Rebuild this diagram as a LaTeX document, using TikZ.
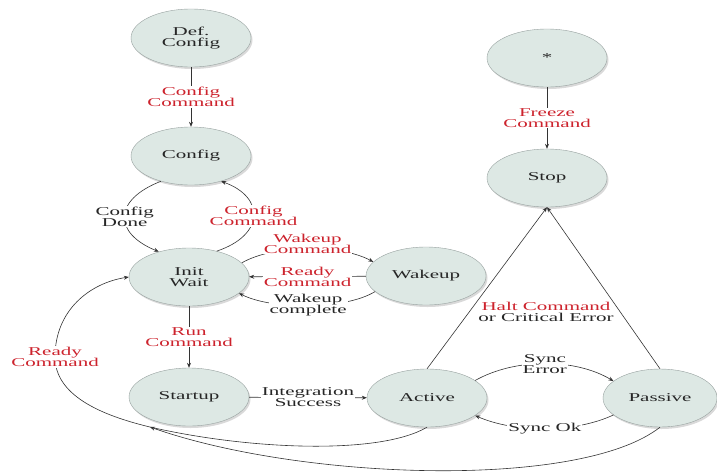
\documentclass[tikz,border=0pt]{standalone}
\usepackage{fontspec}
\setmainfont[FakeStretch=1.75]{Liberation Serif}
\usepackage{tikz}
\usetikzlibrary{arrows.meta,shapes.geometric,shadows}

\definecolor{statefill}{RGB}{221,232,228}
\definecolor{stateline}{RGB}{150,160,158}
\definecolor{cmdred}{RGB}{205,35,45}

\tikzset{
	state/.style={ellipse, draw=stateline, fill=statefill, minimum width=120pt, minimum height=58pt, inner sep=0pt, align=center, text=black!85, drop shadow={opacity=0.3, shadow xshift=1.5pt, shadow yshift=-2pt}},
	trans/.style={-{Stealth[length=5pt,width=4pt]}, draw=black!80, line width=0.6pt},
	lbl/.style={fill=white, inner sep=1pt, align=center, text=black!85},
	cmd/.style={lbl, text=cmdred},
}

\begin{document}
\begin{tikzpicture}[x=1pt, y=-1pt, font=\fontsize{12}{11}\selectfont]
	\useasboundingbox (0,0) rectangle (717,472);

	\node[state] (defcfg) at (191,38) {Def.\\Config};
	\node[state] (cfg) at (191,156) {Config};
	\node[state] (init) at (189,277) {Init\\Wait};
	\node[state] (startup) at (189,397) {Startup};
	\node[state] (wake) at (426,276) {Wakeup};
	\node[state] (active) at (427,398) {Active};
	\node[state, minimum width=114pt] (passive) at (660,398) {Passive};
	\node[state] (stop) at (547,178) {Stop};
	\node[state] (anystate) at (547,58) {*};

	\draw[trans] (defcfg) -- node[cmd] {Config\\Command} (cfg);
	\draw[trans] (cfg.220) .. controls (113,200) and (113,233) .. node[lbl] {Config\\Done} (init.140);
	\draw[trans] (init.43) .. controls (265,235) and (265,197) .. node[cmd] {Config\\Command} (cfg.320);
	\draw[trans] (init.15) .. controls (275,244) and (340,244) .. node[cmd, yshift=5pt] {Wakeup\\Command} (wake.165);
	\draw[trans] (wake) -- node[cmd] {Ready\\Command} (init);
	\draw[trans] (wake.197) .. controls (345,310) and (272,310) .. node[lbl] {Wakeup\\complete} (init.342);
	\draw[trans] (init) -- node[cmd] {Run\\Command} (startup);
	\draw[trans] (startup) -- node[lbl] {Integration\\Success} (active);

	\draw[trans] (anystate) -- node[cmd] {Freeze\\Command} (stop);
	\draw[trans] (active.north) -- (stop.south);
	\draw[trans] (passive.north) -- (stop.south);
	\node[lbl, fill=none] (haltlbl) at (546,312) {\textcolor{cmdred}{Halt Command}\\or Critical Error};

	\draw[trans] (active.20) .. controls (515,358) and (575,358) .. node[lbl] {Sync\\Error} (passive.160);
	\draw[trans] (passive.200) .. controls (575,433) and (515,433) .. node[lbl] {Sync Ok} (active.340);

	\draw[trans] (active.south) .. controls (380,455) and (250,450) .. (150,427) coordinate (rdyjoin)
		.. controls (100,415) and (55,395) .. (55,357) node[cmd] {Ready\\Command}
		.. controls (55,310) and (90,283) .. (init.west);
	\draw[trans] (passive.south) .. controls (580,490) and (300,480) .. (rdyjoin);
\end{tikzpicture}
\end{document}
